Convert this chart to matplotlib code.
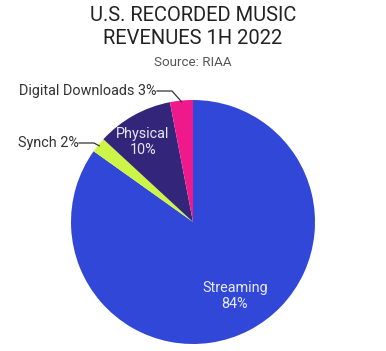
import numpy as np
import matplotlib
matplotlib.use("Agg")
import matplotlib.pyplot as plt

categories = ["Streaming", "Synch", "Physical", "Digital Downloads"]
values = [84, 2, 10, 3]
colors = ["#3047D8", "#CDF545", "#33267A", "#F0198C"]

title_lines = "U.S. RECORDED MUSIC\nREVENUES 1H 2022"
subtitle = "Source: RIAA"

plt.rcParams['font.family'] = ['Roboto', 'DejaVu Sans']

W, H = 386, 351
fig = plt.figure(figsize=(W / 100, H / 100), dpi=100)
cx, cy, R = 193, 222, 122
ax = fig.add_axes([(cx - R) / W, (H - cy - R) / H, 2 * R / W, 2 * R / H])

wedges, _ = ax.pie(values, colors=colors, startangle=90, counterclock=False,
                   radius=1.0, wedgeprops=dict(linewidth=0))
ax.set_xlim(-1, 1)
ax.set_ylim(-1, 1)
ax.set_aspect('equal')
ax.axis('off')

def px(x, y):
    return ((x - cx) / R, (cy - y) / R)

# inside labels
ax.text(*px(235, 296), f"{categories[0]}\n{values[0]}%", color="#E8EAFF",
        ha='center', va='center', fontsize=10.4, linespacing=1.2)
ax.text(*px(143, 142), f"{categories[2]}\n{values[2]}%", color="#E8E6F5",
        ha='center', va='center', fontsize=10.4, linespacing=1.2)

# outside labels with leaders
def outside(idx, text_end, elbow):
    w = wedges[idx]
    mid = np.deg2rad((w.theta1 + w.theta2) / 2)
    ex, ey = np.cos(mid) * 0.99, np.sin(mid) * 0.99
    tx, ty = px(*text_end)
    bx, by = px(*elbow)
    ax.plot([tx, bx, ex], [ty, by, ey], color="#333333", lw=0.9,
            clip_on=False, solid_joinstyle='miter')
    ax.text(tx - 0.005, ty, f"{categories[idx]} {values[idx]}%", color="#333333",
            ha='right', va='center', fontsize=10.4)

outside(1, (79, 143), (94, 143))
outside(3, (157, 91), (172, 91))

fig.text(0.5, (H - 27) / H, title_lines, ha='center', va='center',
         fontsize=14.5, color="#222222", linespacing=1.32)
fig.text(0.5, (H - 63) / H, subtitle, ha='center', va='center',
         fontsize=9.6, color="#555555")

fig.savefig("out.png", dpi=100, facecolor='white')
